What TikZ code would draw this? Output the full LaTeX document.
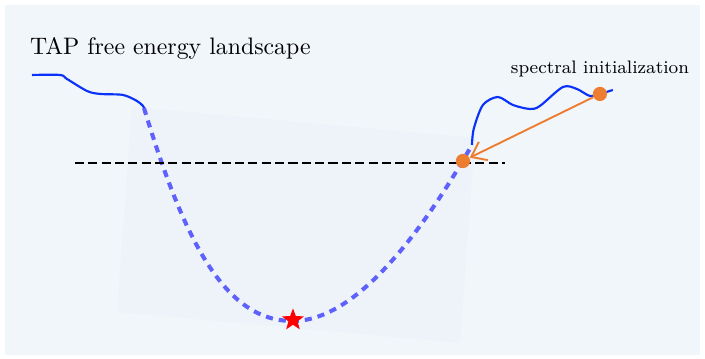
\documentclass[tikz,border=0pt]{standalone}
\usepackage{amsmath,amssymb}
\usepackage{xcolor}
\usepackage{tikz}
\usetikzlibrary{calc,arrows.meta,positioning,shapes.geometric}
\definecolor{tapBg}{RGB}{241,246,251}
\definecolor{tapBasin}{RGB}{238,243,249}
\definecolor{tapBlue}{RGB}{10,50,250}
\definecolor{tapOrange}{RGB}{237,125,49}

\begin{document}
\begin{tikzpicture}[
  dot/.style={circle, fill=tapOrange, inner sep=0pt, minimum size=2.1mm},
  landscape/.style={tapBlue, line width=0.9pt, smooth}]
\useasboundingbox (0,0) rectangle (10.40,5.295);
\fill[tapBg] (0.074,0.059) rectangle (10.32,5.221);
\fill[tapBasin] (1.947,3.717) -- (7.006,3.260) -- (6.785,0.236) -- (1.726,0.693) -- cycle;
\node[anchor=west] (title) at (0.32,4.587) {TAP free energy landscape};
% landscape
\draw[landscape] plot coordinates {(0.472,4.189) (0.885,4.189) (0.988,4.130) (1.283,3.953)
  (1.475,3.909) (1.814,3.894) (2.021,3.805) (2.109,3.732) (2.124,3.702)};
\draw[blue, opacity=0.6, line width=1.7pt, dash pattern=on 3pt off 2.5pt]
  (2.124,3.702) .. controls (2.7,1.8) and (3.3,0.55) .. (4.322,0.56)
  .. controls (5.3,0.56) and (6.3,2.0) .. (6.962,3.156);
\draw[landscape] plot coordinates {(6.962,3.156) (6.990,3.400) (7.124,3.746) (7.345,3.864)
  (7.566,3.746) (7.817,3.687) (7.965,3.732) (8.304,4.012) (8.510,3.982) (8.702,3.879)
  (8.850,3.909) (9.041,3.968)};
\draw[black, line width=1.2pt, dash pattern=on 3.8pt off 1.8pt] (1.106,2.891) -- (7.45,2.891);
\node[star, star points=5, star point ratio=2.4, fill=red, inner sep=0pt, minimum size=3.4mm] (opt) at (4.322,0.575) {};
\node[dot] (fixed) at (6.829,2.920) {};
\node[dot] (init) at (8.850,3.909) {};
\node[above=0.02 of init, font=\footnotesize, scale=0.95] (initlabel) {spectral initialization};
\draw[tapOrange, line width=0.8pt, -{Straight Barb[length=2mm,width=3mm]}] (init) -- (fixed);
\end{tikzpicture}
\end{document}
